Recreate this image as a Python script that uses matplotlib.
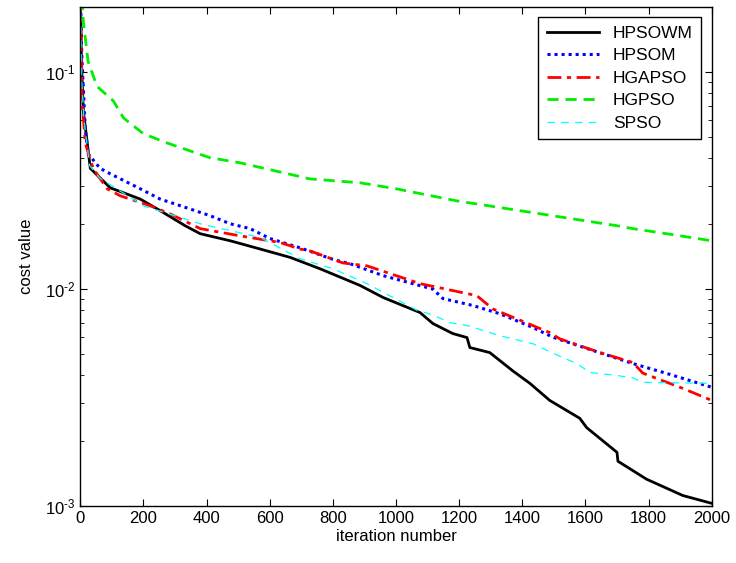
import numpy as np
import matplotlib
matplotlib.use("Agg")
import matplotlib.pyplot as plt
from matplotlib.ticker import LogLocator, FuncFormatter, NullFormatter

plt.rcParams['font.family'] = ['Liberation Sans', 'DejaVu Sans']
plt.rcParams['mathtext.fontset'] = 'custom'
plt.rcParams['mathtext.rm'] = 'Liberation Sans'
plt.rcParams['mathtext.it'] = 'Liberation Sans'

# iteration, cost value
it_hpsowm = [0, 4, 10, 32, 95, 190, 253, 332, 380, 475, 570, 665, 760, 886, 960,
             1076, 1117, 1180, 1225, 1234, 1297, 1370, 1424, 1487, 1582, 1604,
             1700, 1703, 1794, 1908, 2000]
hpsowm = [0.25, 0.11, 0.066, 0.036, 0.0293, 0.026, 0.023, 0.0196, 0.018, 0.0167,
          0.0153, 0.014, 0.0124, 0.0104, 0.00914, 0.0078, 0.00694, 0.00624,
          0.00598, 0.00538, 0.0051, 0.0042, 0.00368, 0.00307, 0.00254, 0.0023,
          0.00177, 0.00161, 0.00133, 0.00112, 0.00103]

it_hpsom = [0, 5, 10, 16, 25, 63, 95, 190, 253, 348, 411, 475, 538, 601, 696,
            801, 854, 960, 1117, 1149, 1244, 1329, 1434, 1497, 1592, 1750, 1857, 2000]
hpsom = [0.25, 0.12, 0.083, 0.055, 0.042, 0.036, 0.034, 0.029, 0.026, 0.0234,
         0.0218, 0.02, 0.019, 0.0171, 0.0155, 0.0137, 0.0131, 0.01153, 0.0100,
         0.00904, 0.0084, 0.0077, 0.00665, 0.006, 0.0054, 0.00454, 0.00409, 0.00353]

it_hgapso = [0, 6, 16, 41, 85, 127, 222, 285, 380, 506, 633, 696, 728, 832, 908,
             1076, 1256, 1307, 1434, 1487, 1519, 1646, 1750, 1782, 1908, 2000]
hgapso = [0.25, 0.073, 0.047, 0.036, 0.029, 0.0269, 0.0242, 0.0222, 0.019, 0.0176,
          0.0164, 0.0153, 0.015, 0.0132, 0.0128, 0.0106, 0.00933, 0.0081, 0.00679,
          0.0063, 0.0059, 0.0051, 0.00459, 0.0041, 0.00349, 0.00307]

it_hgpso = [0, 10, 25, 53, 105, 137, 200, 274, 411, 506, 728, 886, 1000, 1193,
            1434, 1699, 1750, 1857, 2000]
hgpso = [0.3, 0.17, 0.112, 0.086, 0.0736, 0.0615, 0.052, 0.0472, 0.0403, 0.0382,
         0.0322, 0.0309, 0.029, 0.0255, 0.0225, 0.0196, 0.019, 0.018, 0.0167]

it_spso = [0, 5, 12, 30, 63, 200, 380, 570, 696, 801, 908, 1066, 1117, 1171, 1225,
           1329, 1434, 1519, 1573, 1614, 1699, 1750, 1782, 2000]
spso = [0.25, 0.09, 0.06, 0.037, 0.0324, 0.0242, 0.02, 0.0173, 0.0138, 0.0124,
        0.0106, 0.008, 0.0076, 0.007, 0.0068, 0.0061, 0.0056, 0.0049, 0.00454,
        0.00413, 0.004, 0.0039, 0.00372, 0.00368]


def log_label(v, pos):
    e = int(round(np.log10(v)))
    return r'$10^{\text{%d}}$' % e


def main():
    fig = plt.figure(figsize=(7.36, 5.63), dpi=100)
    ax = fig.add_axes([0.109, 0.101, 0.858, 0.887])

    ax.plot(it_hpsowm, hpsowm, color='black', lw=2.0, label='HPSOWM')
    ax.plot(it_hpsom, hpsom, color='blue', lw=2.2, ls=(0, (1, 1.3)), label='HPSOM')
    ax.plot(it_hgapso, hgapso, color='red', lw=2.0, ls=(0, (5, 2, 1.5, 2)), label='HGAPSO')
    ax.plot(it_hgpso, hgpso, color='#00ee00', lw=2.0, ls=(0, (4, 2.5)), label='HGPSO')
    ax.plot(it_spso, spso, color='cyan', lw=0.9, ls=(0, (6, 5)), label='SPSO')

    ax.set_yscale('log')
    ax.set_xlim(0, 2000)
    ax.set_ylim(1e-3, 0.2)
    ax.set_xticks(np.arange(0, 2001, 200))
    ax.yaxis.set_major_locator(LogLocator(base=10))
    ax.yaxis.set_major_formatter(FuncFormatter(log_label))
    ax.yaxis.set_minor_locator(LogLocator(base=10, subs=np.arange(2, 10)))
    ax.yaxis.set_minor_formatter(NullFormatter())
    ax.tick_params(which='both', direction='in', top=True, right=True, labelsize=12)
    ax.tick_params(which='major', length=5)
    ax.tick_params(which='minor', length=3)
    for s in ax.spines.values():
        s.set_linewidth(1.0)

    ax.set_xlabel('iteration number', fontsize=12, labelpad=2)
    ax.set_ylabel('cost value', fontsize=12, labelpad=8)

    leg = ax.legend(loc='upper right', fontsize=12.5, fancybox=False, framealpha=1,
                    edgecolor='black', handlelength=3.0, borderaxespad=0.6,
                    labelspacing=0.42, borderpad=0.5)
    leg.get_frame().set_linewidth(1.0)

    fig.savefig('out.png', dpi=100)


if __name__ == "__main__":
    main()
